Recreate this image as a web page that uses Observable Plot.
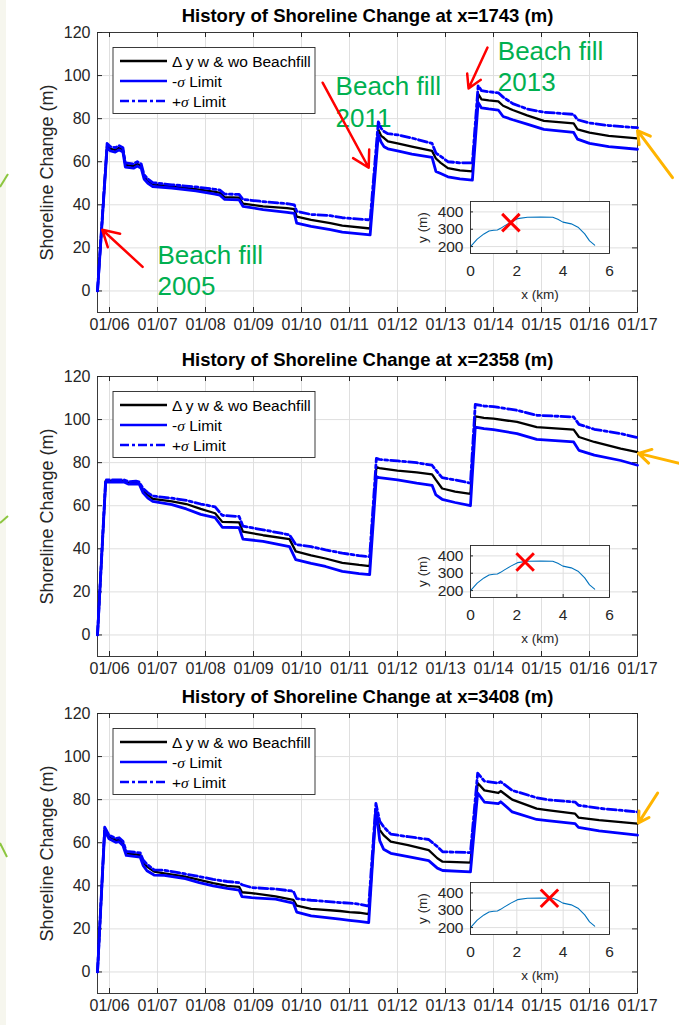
<!DOCTYPE html>
<html>
<head>
<meta charset="utf-8">
<script src="https://cdn.jsdelivr.net/npm/d3@7"></script>
<script src="https://cdn.jsdelivr.net/npm/@observablehq/plot@0.6"></script>
<style>
  html, body { margin: 0; padding: 0; background: #fff; }
  #page { position: relative; width: 679px; height: 1025px; overflow: hidden; background: #fff; }
  #page > svg, #page > div { position: absolute; }
</style>
</head>
<body>
<div id="page"></div>
<script>
// ---- axis ticks -----------------------------------------------------------
const yearTicks  = [2006, 2007, 2008, 2009, 2010, 2011, 2012, 2013, 2014, 2015, 2016, 2017];
const yearLabels = ["01/06", "01/07", "01/08", "01/09", "01/10", "01/11", "01/12", "01/13", "01/14", "01/15", "01/16", "01/17"];
const changeTicks = [0, 20, 40, 60, 80, 100, 120];
const insetXTicks = [0, 2, 4, 6];
const insetYTicks = [200, 300, 400];
const legendLabels = ["Δ y w & wo Beachfill", "-σ Limit", "+σ Limit"];

// ---- station x = 1743 m ---------------------------------------------------
const t1 = [2005.75, 2005.95, 2006.02, 2006.12, 2006.2, 2006.28, 2006.33, 2006.5, 2006.58, 2006.66, 2006.72, 2006.8, 2006.9, 2007.3, 2007.8, 2008.2, 2008.3, 2008.4, 2008.7, 2008.78, 2009.2, 2009.7, 2009.85, 2009.9, 2010.2, 2010.6, 2010.85, 2011.43, 2011.6, 2011.66, 2011.72, 2011.8, 2012.0, 2012.3, 2012.72, 2012.8, 2012.9, 2013.05, 2013.3, 2013.56, 2013.68, 2013.75, 2013.9, 2014.1, 2014.2, 2014.4, 2014.7, 2015.05, 2015.67, 2015.75, 2016.0, 2016.4, 2017.0];
const mean1  = [0, 67.5, 66, 65.5, 66.5, 65.5, 58.5, 58, 59, 58, 53, 51, 49.5, 48.5, 47.3, 46, 45.5, 43.5, 43.3, 40.5, 39.3, 38.5, 38, 34.5, 33, 31.5, 30.3, 29, 75, 72, 71, 69.5, 68.5, 67, 65, 61.5, 59.5, 57, 56, 55.5, 91.5, 89, 88.5, 88, 86, 84, 81.5, 79, 77.8, 75, 73.5, 72, 70.8];
const lower1 = [0, 66.5, 65, 64.5, 65.5, 64.5, 57.5, 57, 58, 57, 52, 50, 48.5, 47.8, 46.5, 45, 44.5, 42.5, 42.3, 39.3, 37.8, 36.5, 36, 31.5, 30, 28.5, 27.3, 26, 72.5, 69, 67, 66, 65, 63.5, 62, 55.5, 54.5, 53, 52, 51.5, 87.5, 85, 84.5, 84, 81, 79.5, 77.5, 75, 73.6, 70.5, 68.5, 67, 65.8];
const upper1 = [0, 68.5, 67, 66.5, 67.5, 66.5, 59.5, 59, 60, 59, 54, 52, 50.3, 49.3, 48.3, 47.2, 46.8, 45, 44.8, 42.5, 41.5, 40.5, 40, 37, 35.5, 35, 34, 33, 78.5, 75.5, 74, 73, 72.5, 71, 68.5, 64, 62.5, 60, 59.5, 59.5, 95.3, 93, 92.5, 92, 90, 87, 84.5, 83, 82, 79.5, 78, 76.8, 75.8];

// ---- station x = 2358 m ---------------------------------------------------
const t2 = [2005.75, 2005.92, 2006.3, 2006.4, 2006.55, 2006.62, 2006.7, 2006.8, 2006.9, 2007.3, 2007.6, 2007.9, 2008.2, 2008.35, 2008.7, 2008.78, 2009.2, 2009.75, 2009.88, 2010.2, 2010.5, 2010.85, 2011.2, 2011.42, 2011.56, 2011.62, 2012.0, 2012.4, 2012.72, 2012.8, 2012.93, 2013.2, 2013.52, 2013.62, 2013.8, 2014.0, 2014.49, 2014.9, 2015.67, 2015.78, 2016.1, 2016.65, 2017.0];
const mean2  = [0, 71.5, 71.5, 70.6, 70.8, 70.5, 67, 65, 63.2, 62, 60.8, 58.5, 56.5, 52.5, 52.3, 48, 46.3, 44.5, 38.8, 37, 35.5, 33.5, 32.5, 32, 78, 77.5, 76.3, 75.5, 74.6, 72, 68, 66.5, 65.5, 101.5, 100.8, 100.4, 98.9, 96.5, 95.3, 91.9, 89.6, 86.5, 84.9];
const lower2 = [0, 71, 71, 70, 70.2, 70, 66, 63.5, 62, 60.5, 58.5, 56, 54.5, 50, 49.8, 44.5, 43.5, 41, 35, 33.2, 31.8, 29.5, 28.5, 28, 73.5, 73, 72, 70.5, 69.5, 65, 63, 61.5, 60, 96.5, 95.8, 95.3, 93.5, 90.8, 89.6, 85.7, 83.5, 81, 78.8];
const upper2 = [0, 72, 72, 71.2, 71.4, 71, 68, 66, 64.5, 63.5, 62.5, 60.8, 59.5, 55.5, 55, 50.5, 48.8, 46.5, 42, 41, 39.5, 38, 36.8, 36.3, 82, 81.5, 80.8, 80, 78.8, 76.5, 73, 72, 70.5, 107, 106.3, 106, 104.3, 102, 101.2, 97.8, 95.5, 93.5, 91.6];

// ---- station x = 3408 m ---------------------------------------------------
const t3 = [2005.75, 2005.9, 2005.99, 2006.13, 2006.2, 2006.28, 2006.35, 2006.64, 2006.7, 2006.78, 2006.93, 2007.14, 2007.58, 2007.87, 2008.16, 2008.45, 2008.7, 2008.76, 2008.96, 2009.46, 2009.83, 2009.9, 2010.2, 2010.8, 2011.0, 2011.2, 2011.4, 2011.55, 2011.63, 2011.71, 2011.86, 2012.22, 2012.65, 2012.83, 2012.94, 2013.52, 2013.67, 2013.81, 2014.1, 2014.15, 2014.39, 2014.9, 2015.12, 2015.7, 2015.77, 2016.2, 2017.0];
const mean3  = [0, 66.6, 62.8, 61.2, 61.5, 59.7, 55.1, 54.3, 51, 48.9, 46.6, 45.8, 44.3, 42.8, 41.2, 40, 39.5, 37, 36.6, 35.1, 33.5, 30.8, 29.3, 28.3, 27.8, 27.5, 26.8, 74.4, 66, 63.5, 60.5, 58.9, 56.6, 52.8, 51.2, 50.8, 87.7, 84.3, 83.1, 84, 80, 75.8, 75.1, 73.5, 71.7, 70.5, 68.9];
const lower3 = [0, 65.6, 61.8, 60.2, 60.5, 58.7, 54.1, 53.3, 49.5, 47, 45, 44.8, 43.3, 41.5, 40, 38.8, 38, 35, 34.5, 33.8, 32, 27.8, 26, 24.5, 24, 23.5, 22.9, 75.5, 61, 57, 55.1, 53.5, 51.7, 48.2, 47.1, 46.5, 83.1, 78.9, 78.2, 79, 74.3, 70.8, 70.3, 68.9, 67.1, 65.5, 63.5];
const upper3 = [0, 67.2, 63.5, 62, 62.3, 60.7, 56, 55.3, 52, 50, 47.4, 47.2, 45.5, 44.3, 43, 42, 41.5, 40.5, 39.2, 38.5, 37.5, 34, 33.3, 32.2, 32, 31.5, 30.6, 78.3, 70, 67.4, 64, 62.8, 61.5, 58.2, 55.8, 55.4, 92.3, 88.6, 87.7, 88.3, 84.3, 80.9, 80, 78.9, 77.4, 76, 74.3];

// ---- shoreline plan-form (inset), alongshore km vs cross-shore m ----------
const profileX = [0, 0.29, 0.58, 0.8, 1.0, 1.16, 1.3, 1.45, 1.74, 2.03, 2.46, 3.04, 3.55, 3.77, 3.99, 4.35, 4.64, 4.93, 5.14, 5.36];
const profileY = [200, 243, 273, 290, 294, 296, 305, 318, 341, 361, 369, 371, 369, 357, 341, 331, 312, 273, 233, 208];

// ---- stations ------------------------------------------------------------
const stationNames = ["1743", "2358", "3408"];
const stationKm = [1.743, 2.358, 3.408];
const stationY = [338, 365, 369];

// ---- annotations (data coordinates: year, shoreline change) ---------------
const fillNotes1 = [
  {t: 2007.0, v: 10.0, text: "Beach fill\n2005"},
  {t: 2010.71, v: 88.2, text: "Beach fill\n2011"},
  {t: 2014.09, v: 104.8, text: "Beach fill\n2013"}
];
const fillArrows1 = [
  {ta: 2006.69, va: 11.2, tb: 2005.85, vb: 28.4},
  {ta: 2010.44, va: 96.7, tb: 2011.40, vb: 57.2},
  {ta: 2013.875, va: 113, tb: 2013.48, vb: 94}
];
const endArrows = [
  [{ta: 2017.73, va: 52.6, tb: 2017.0, vb: 74.4}],
  [{ta: 2017.875, va: 79.7, tb: 2017.02, vb: 84.3}],
  [{ta: 2017.42, va: 83.1, tb: 2017.02, vb: 69.2}]
];

// ---- drawing ---------------------------------------------------------------
const FONT = "'Liberation Sans', Arial, Helvetica, sans-serif";
const page = document.getElementById("page");
const AX = "#262626";
const GRID = "#dfdfdf";

const panels = [
  {t: t1, mean: mean1, lower: lower1, upper: upper1, notes: fillNotes1, arrows: fillArrows1},
  {t: t2, mean: mean2, lower: lower2, upper: upper2, notes: [], arrows: []},
  {t: t3, mean: mean3, lower: lower3, upper: upper3, notes: [], arrows: []}
];
const panelTops = [0, 344, 681];

function drawLegend(svg) {
  const g = d3.select(svg).append("g").attr("transform", "translate(113,47.5)");
  g.append("rect").attr("width", 202).attr("height", 66)
    .attr("fill", "white").attr("stroke", AX).attr("stroke-width", 0.9);
  const styles = [
    {stroke: "#000", width: 2.4, dash: null},
    {stroke: "#0000ff", width: 2.6, dash: null},
    {stroke: "#0000ff", width: 2.6, dash: "9,3,3,3"}
  ];
  legendLabels.forEach((label, i) => {
    const y = 13.5 + i * 20;
    g.append("line").attr("x1", 7).attr("x2", 54).attr("y1", y).attr("y2", y)
      .attr("stroke", styles[i].stroke).attr("stroke-width", styles[i].width)
      .attr("stroke-dasharray", styles[i].dash);
    const txt = g.append("text").attr("x", 59).attr("y", y).attr("dy", "0.36em")
      .attr("text-anchor", "start")
      .attr("font-size", 15.5).attr("font-family", FONT).attr("fill", "#000");
    label.split(/(σ)/).forEach(part => {
      if (!part) return;
      const ts = txt.append("tspan").text(part);
      if (part === "σ") ts.attr("font-style", "italic").attr("font-family", "'Liberation Serif', 'DejaVu Serif', serif");
    });
  });
}

panels.forEach((p, k) => {
  const rows = p.t.map((d, i) => ({t: d, mean: p.mean[i], lower: p.lower[i], upper: p.upper[i]}));
  const chart = Plot.plot({
    width: 679,
    height: 340,
    marginLeft: 97,
    marginRight: 42,
    marginTop: 32,
    marginBottom: 28,
    style: {fontFamily: FONT, fontSize: "16px", color: AX, background: "transparent", overflow: "visible"},
    x: {domain: [2005.75, 2017]},
    y: {domain: [-10, 120]},
    marks: [
      Plot.frame({fill: "white"}),
      Plot.gridX(yearTicks, {stroke: GRID, strokeOpacity: 1}),
      Plot.gridY(changeTicks, {stroke: GRID, strokeOpacity: 1}),
      Plot.ruleX(yearTicks, {insetTop: 275, stroke: AX}),
      Plot.ruleX(yearTicks, {insetBottom: 275, stroke: AX}),
      Plot.ruleY(changeTicks, {insetRight: 535, stroke: AX}),
      Plot.ruleY(changeTicks, {insetLeft: 535, stroke: AX}),
      Plot.frame({stroke: AX, strokeWidth: 0.9}),
      Plot.axisX(yearTicks, {tickSize: 0, tickPadding: 6, label: null,
        tickFormat: d => yearLabels[yearTicks.indexOf(d)]}),
      Plot.axisY(changeTicks, {tickSize: 0, tickPadding: 7, label: null}),
      Plot.text([`History of Shoreline Change at x=${stationNames[k]} (m)`],
        {frameAnchor: "top", dy: -16, lineAnchor: "middle", textAnchor: "middle",
         fontWeight: "bold", fontSize: 18.5, fill: "#000"}),
      Plot.text(["Shoreline Change (m)"],
        {frameAnchor: "left", dx: -50, rotate: -90, textAnchor: "middle", lineAnchor: "middle",
         fontSize: 18, fill: AX}),
      Plot.text(p.notes, {x: "t", y: "v", text: "text", fill: "#00b050", fontSize: 26,
        textAnchor: "start", lineAnchor: "middle", lineHeight: 1.2}),
      Plot.line(rows, {x: "t", y: "mean", stroke: "#000", strokeWidth: 2.3}),
      Plot.line(rows, {x: "t", y: "lower", stroke: "#0000ff", strokeWidth: 2.8}),
      Plot.line(rows, {x: "t", y: "upper", stroke: "#0000ff", strokeWidth: 2.8, strokeDasharray: "9,3,3,3"}),
      Plot.arrow(p.arrows, {x1: "ta", y1: "va", x2: "tb", y2: "vb", stroke: "#ff0000",
        strokeWidth: 2.5, headLength: 11, headAngle: 60}),
      Plot.arrow(endArrows[k], {x1: "ta", y1: "va", x2: "tb", y2: "vb", stroke: "#ffb400",
        strokeWidth: 3, headLength: 7, headAngle: 60})
    ]
  });
  chart.style.left = "0px";
  chart.style.top = panelTops[k] + "px";
  drawLegend(chart);
  page.appendChild(chart);

  // inset: plan-form shoreline with the station marked
  const profile = profileX.map((x, i) => ({x, y: profileY[i]}));
  const inset = Plot.plot({
    width: 202,
    height: 104,
    marginLeft: 58,
    marginRight: 5,
    marginTop: 4,
    marginBottom: 48,
    style: {fontFamily: FONT, fontSize: "15.5px", color: AX, background: "transparent", overflow: "visible"},
    x: {domain: [0, 6]},
    y: {domain: [160, 460]},
    marks: [
      Plot.frame({fill: "white"}),
      Plot.gridX(insetXTicks, {stroke: GRID, strokeOpacity: 1}),
      Plot.gridY(insetYTicks, {stroke: GRID, strokeOpacity: 1}),
      Plot.ruleX(insetXTicks, {insetTop: 49, stroke: AX}),
      Plot.ruleY(insetYTicks, {insetRight: 136, stroke: AX}),
      Plot.line(profile, {x: "x", y: "y", stroke: "#0072bd", strokeWidth: 1.1}),
      Plot.dot([{x: stationKm[k], y: stationY[k]}], {x: "x", y: "y", symbol: "times", r: 8,
        stroke: "#ff0000", strokeWidth: 3}),
      Plot.frame({stroke: AX, strokeWidth: 0.9}),
      Plot.axisX(insetXTicks, {tickSize: 0, tickPadding: 11, label: null}),
      Plot.axisY(insetYTicks, {tickSize: 0, tickPadding: 7, label: null}),
      Plot.text(["x (km)"], {frameAnchor: "bottom", dy: 41, lineAnchor: "middle", textAnchor: "middle",
        fontSize: 13.5, fill: AX}),
      Plot.text(["y (m)"], {frameAnchor: "left", dx: -48, rotate: -90, lineAnchor: "middle",
        textAnchor: "middle", fontSize: 13.5, fill: AX})
    ]
  });
  inset.style.left = "412px";
  inset.style.top = (panelTops[k] + 32 + 169 - 4) + "px";
  page.appendChild(inset);
});

// page edge: light margin strip and connector stubs
const deco = d3.select(page).append("svg")
  .attr("width", 679).attr("height", 1025)
  .style("left", "0px").style("top", "0px").style("pointer-events", "none");
deco.append("rect").attr("x", 0).attr("y", 0).attr("width", 6).attr("height", 1025).attr("fill", "#f6f6ee");
[[0, 187, 8, 174], [0, 523, 8, 516], [0, 843, 7, 857]].forEach(([a, b, c, d]) =>
  deco.append("line").attr("x1", a).attr("y1", b).attr("x2", c).attr("y2", d)
    .attr("stroke", "#8cc63f").attr("stroke-width", 2));
</script>
</body>
</html>
